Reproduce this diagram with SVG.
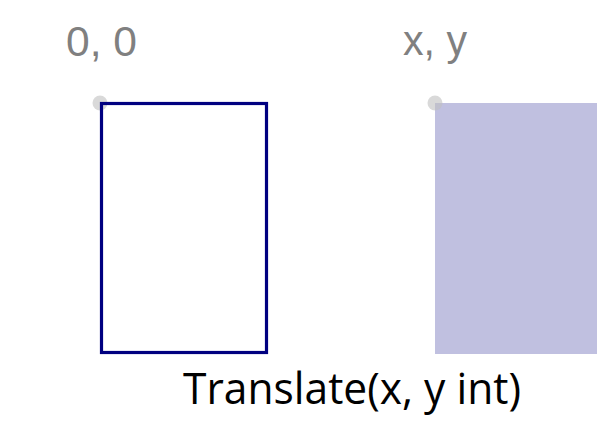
<svg xmlns="http://www.w3.org/2000/svg" width="597" height="427" viewBox="0 0 597 427">
  <style>
    .coord { font-family: "Liberation Sans", "Open Sans", sans-serif; font-size: 43px; fill: #808080; }
    .caption { font-family: "Open Sans", "Liberation Sans", sans-serif; font-size: 44px; fill: #000000; }
    .origin { fill: #bfbfbf; fill-opacity: 0.6; }
  </style>
  <rect width="597" height="427" fill="#ffffff"/>

  <!-- original rectangle at the origin -->
  <g id="source-rect">
    <circle class="origin" cx="100" cy="103" r="7.5"/>
    <rect x="101.5" y="103.5" width="165" height="249" fill="none" stroke="#000080" stroke-width="3.2"/>
    <text class="coord" x="66" y="56" textLength="71" lengthAdjust="spacingAndGlyphs">0, 0</text>
  </g>

  <!-- translated rectangle -->
  <g id="translated-rect">
    <rect x="435" y="103" width="162" height="251" fill="#c0c0e0"/>
    <circle class="origin" cx="435" cy="103" r="7.5"/>
    <text class="coord" x="403" y="55" textLength="64" lengthAdjust="spacingAndGlyphs">x, y</text>
  </g>

  <g id="caption">
    <text class="caption" x="183" y="404" textLength="338" lengthAdjust="spacingAndGlyphs">Translate(x, y int)</text>
  </g>
</svg>
